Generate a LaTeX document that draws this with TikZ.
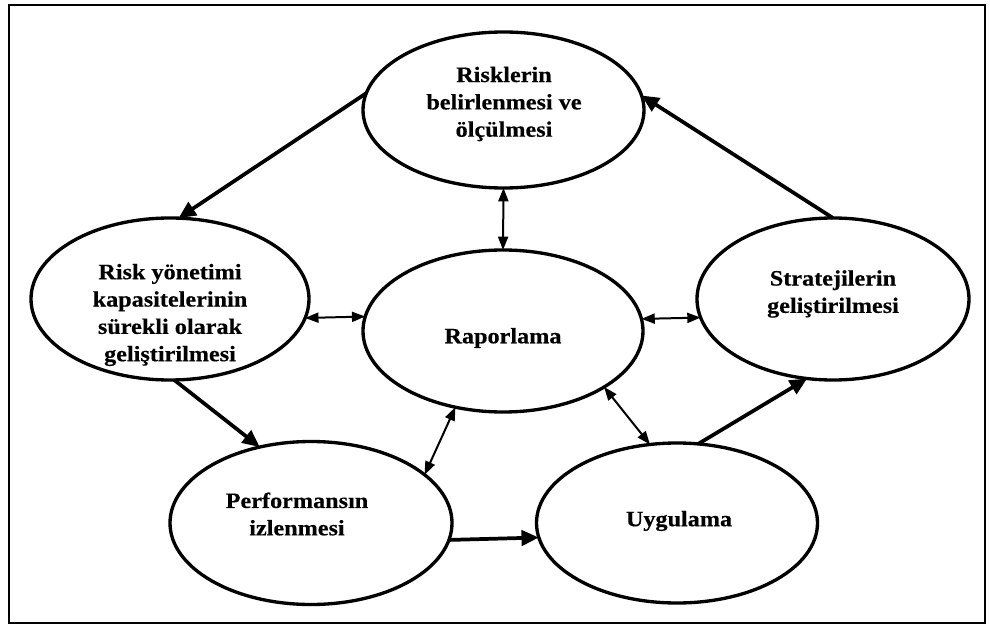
\documentclass[tikz,border=0pt]{standalone}
\usepackage{fontspec}
\setmainfont{Liberation Serif}
\newfontfamily\widefont[FakeStretch=1.1,FakeBold=0.4]{Liberation Serif}
\usetikzlibrary{shapes.geometric,arrows.meta}
\begin{document}
\begin{tikzpicture}[x=0.75pt,y=-0.75pt,
  ell/.style={ellipse, draw, line width=2.5pt, inner sep=0pt, outer sep=0pt},
  sz/.style 2 args={minimum width=#1*0.75pt, minimum height=#2*0.75pt},
  txt/.style={align=center, font=\widefont\bfseries\fontsize{16.5}{20.5}\selectfont, inner sep=0pt},
  big/.style={line width=2.8pt, -{Triangle[length=13pt,width=11.5pt]}},
  two/.style={line width=1.5pt, {Triangle[length=10pt,width=7.5pt]}-{Triangle[length=10pt,width=7.5pt]}}]
\useasboundingbox (0,0) rectangle (990,628);
\draw[line width=1.8pt] (9,5) rectangle (985,623);

\node[ell, sz={281}{156}] (top) at (503.5,110) {};
\node[ell, sz={278}{162}] (left) at (170,299) {};
\node[ell, sz={280}{162}] (rap) at (503,331) {};
\node[ell, sz={272}{162}] (right) at (833,299) {};
\node[ell, sz={282}{163}] (perf) at (311,523) {};
\node[ell, sz={281}{160}] (uyg) at (677,523) {};

\node[txt] (topt) at (504,104) {Risklerin\\belirlenmesi ve\\ölçülmesi};
\node[txt] (leftt) at (170,315) {Risk yönetimi\\kapasitelerinin\\sürekli olarak\\geliştirilmesi};
\node[txt] (rapt) at (503,338) {Raporlama};
\node[txt] (rightt) at (833,294) {Stratejilerin\\geliştirilmesi};
\node[txt] (perft) at (297,514) {Performansın\\izlenmesi};
\node[txt] (uygt) at (679,521) {Uygulama};

\draw[big] (top.173.5) -- (left.84.9);
\draw[big] (right.90) -- (top.6.5);
\draw[two] (top.270) -- (rap.90);
\draw[two] (left.352) -- (rap.174.6);
\draw[two] (rap.5.4) -- (right.188.2);
\draw[big] (left.273.4) -- (perf.124);
\draw[two] (perf.23.2) -- (rap.238);
\draw[two] (rap.331.9) -- (uyg.109.4);
\draw[big] (perf.353.4) -- (uyg.186.6);
\draw[big] (uyg.75.1) -- (right.252.4);
\end{tikzpicture}
\end{document}
